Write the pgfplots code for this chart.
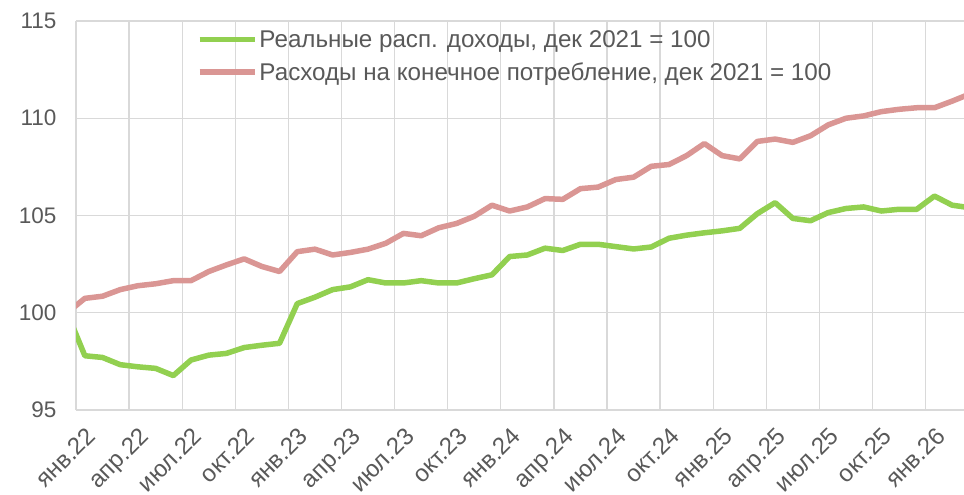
\documentclass[border=0pt]{standalone}
\usepackage{fontspec}
\setmainfont{Liberation Sans}
\usepackage{pgfplots}
\pgfplotsset{compat=1.18}

\definecolor{incgreen}{HTML}{92D050}
\definecolor{conspink}{HTML}{DA9694}
\definecolor{txtgray}{HTML}{595959}
\definecolor{gridgray}{HTML}{D9D9D9}

\begin{document}
\begin{tikzpicture}
\begin{axis}[
    scale only axis,
    width=888bp, height=389bp,
    xmin=0, xmax=50.17,
    ymin=95, ymax=115,
    ytick={95,100,105,110,115},
    xtick={0,3,...,48},
    xticklabels={янв.22,апр.22,июл.22,окт.22,янв.23,апр.23,июл.23,окт.23,янв.24,апр.24,июл.24,окт.24,янв.25,апр.25,июл.25,окт.25,янв.26},
    /pgf/number format/assume math mode=true,
    font=\fontsize{22.5bp}{27bp}\selectfont,
    tick label style={text=txtgray},
    xticklabel style={font=\fontsize{24bp}{28bp}\selectfont,
        xshift=9bp, yshift=-11bp, rotate=45, anchor=north east},
    yticklabel style={xshift=-16bp},
    major tick length=0pt,
    axis line style={draw=none},
    xmajorgrids, ymajorgrids,
    grid style={gridgray, line width=1.3bp},
    legend style={at={(rel axis cs:0.136,0.982)}, anchor=north west,
        draw=none, fill=none, text=txtgray, inner sep=0pt,
        row sep=10bp, font=\fontsize{24.2bp}{28bp}\selectfont,
        cells={anchor=west}},
    legend image code/.code={\draw[#1] (0bp,0bp) -- (55bp,0bp);},
    every axis plot/.append style={line width=5.5bp, line join=round},
]

% реальные располагаемые доходы
\addplot[incgreen] coordinates {
(-0.5,100)(0.5,97.79)(1.5,97.70)(2.5,97.33)(3.5,97.22)(4.5,97.14)(5.5,96.77)
(6.5,97.57)(7.5,97.82)(8.5,97.91)(9.5,98.21)(10.5,98.33)(11.5,98.43)
(12.5,100.47)(13.5,100.80)(14.5,101.19)(15.5,101.33)(16.5,101.70)(17.5,101.53)
(18.5,101.53)(19.5,101.65)(20.5,101.53)(21.5,101.53)(22.5,101.75)(23.5,101.95)
(24.5,102.89)(25.5,102.97)(26.5,103.32)(27.5,103.20)(28.5,103.52)(29.5,103.52)
(30.5,103.40)(31.5,103.28)(32.5,103.38)(33.5,103.83)(34.5,103.99)(35.5,104.11)
(36.5,104.21)(37.5,104.34)(38.5,105.10)(39.5,105.66)(40.5,104.85)(41.5,104.73)
(42.5,105.15)(43.5,105.36)(44.5,105.44)(45.5,105.23)(46.5,105.32)(47.5,105.32)
(48.5,106.00)(49.5,105.53)(50.5,105.40)
};
\addlegendentry{Реальные расп. доходы, дек 2021 = 100}

% расходы на конечное потребление
\addplot[conspink] coordinates {
(-0.5,100)(0.5,100.74)(1.5,100.85)(2.5,101.19)(3.5,101.39)(4.5,101.49)(5.5,101.65)
(6.5,101.65)(7.5,102.12)(8.5,102.46)(9.5,102.77)(10.5,102.38)(11.5,102.12)
(12.5,103.14)(13.5,103.27)(14.5,102.97)(15.5,103.10)(16.5,103.27)(17.5,103.57)
(18.5,104.08)(19.5,103.96)(20.5,104.37)(21.5,104.59)(22.5,104.96)(23.5,105.53)
(24.5,105.23)(25.5,105.44)(26.5,105.87)(27.5,105.83)(28.5,106.38)(29.5,106.46)
(30.5,106.85)(31.5,106.97)(32.5,107.53)(33.5,107.62)(34.5,108.08)(35.5,108.70)
(36.5,108.08)(37.5,107.91)(38.5,108.81)(39.5,108.93)(40.5,108.76)(41.5,109.10)
(42.5,109.66)(43.5,110.00)(44.5,110.12)(45.5,110.34)(46.5,110.46)(47.5,110.54)
(48.5,110.54)(49.5,110.88)(50.5,111.25)
};
\addlegendentry{Расходы на конечное потребление, дек 2021 = 100}

\coordinate (sw) at (rel axis cs:0,0);
\end{axis}
\pgfresetboundingbox
\path[use as bounding box] ([shift={(-76bp,-85bp)}]sw) rectangle ([shift={(888bp,410bp)}]sw);
\end{tikzpicture}
\end{document}
